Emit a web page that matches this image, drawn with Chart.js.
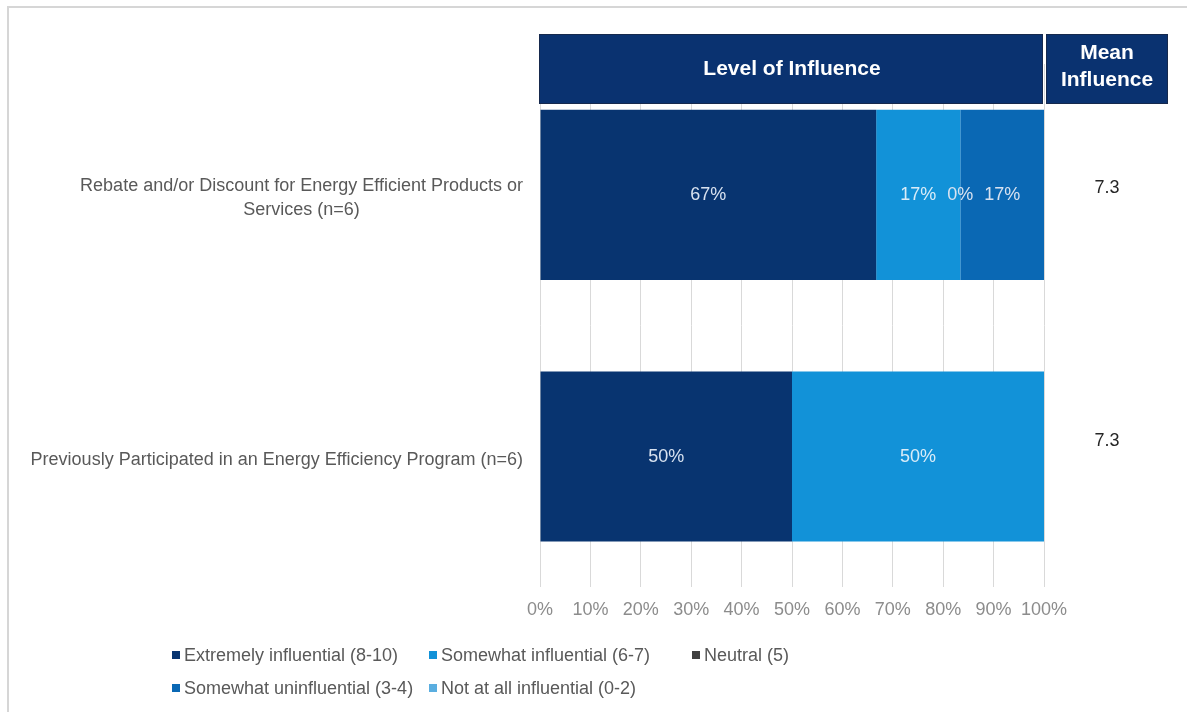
<!DOCTYPE html>
<html>
<head>
<meta charset="utf-8">
<script src="https://cdn.jsdelivr.net/npm/chart.js@4.4.0/dist/chart.umd.min.js"></script>
<style>
  html, body { margin: 0; padding: 0; background: #ffffff; }
  #wrap { width: 1187px; height: 712px; position: relative; }
</style>
</head>
<body>
<div id="wrap"><canvas id="chart"></canvas></div>
<script>
// Survey items (multi-line label for the first one)
const categories = [
  ["Rebate and/or Discount for Energy Efficient Products or", "Services (n=6)"],
  "Previously Participated in an Energy Efficiency Program (n=6)"
];

// Response groups
const seriesNames = [
  "Extremely influential (8-10)",
  "Somewhat influential (6-7)",
  "Neutral (5)",
  "Somewhat uninfluential (3-4)",
  "Not at all influential (0-2)"
];
const seriesColors = ["#083470", "#1292d8", "#404040", "#0a68b4", "#5aaee0"];

// Percent of respondents per group (null = not shown)
const extremelyInfluential = [66.7, 50];
const somewhatInfluential = [16.7, 50];
const neutral = [0, null];
const somewhatUninfluential = [16.6, null];
const notAtAllInfluential = [null, null];

// Mean influence rating per item
const meanInfluence = [7.3, 7.3];

// Horizontal axis tick values
const xTickValues = [0, 10, 20, 30, 40, 50, 60, 70, 80, 90, 100];

const FONT = "'Liberation Sans', Arial, sans-serif";

const seriesValues = [extremelyInfluential, somewhatInfluential, neutral, somewhatUninfluential, notAtAllInfluential];

// Page frame lines
const framePlugin = {
  id: 'frame',
  beforeDraw(chart) {
    const ctx = chart.ctx;
    ctx.save();
    ctx.fillStyle = '#ffffff';
    ctx.fillRect(0, 0, chart.width, chart.height);
    ctx.strokeStyle = '#d6d6d6';
    ctx.lineWidth = 2;
    ctx.beginPath();
    ctx.moveTo(8, chart.height);
    ctx.lineTo(8, 7);
    ctx.lineTo(chart.width, 7);
    ctx.stroke();
    ctx.restore();
  }
};

// Percent labels inside the bar segments
const segmentLabels = {
  id: 'segmentLabels',
  afterDatasetsDraw(chart) {
    const ctx = chart.ctx;
    ctx.save();
    ctx.font = '18px ' + FONT;
    ctx.textAlign = 'center';
    ctx.textBaseline = 'middle';
    chart.data.datasets.forEach((ds, di) => {
      const meta = chart.getDatasetMeta(di);
      meta.data.forEach((bar, i) => {
        const v = ds.data[i];
        if (v === null || v === undefined) return;
        const cx = (bar.x + bar.base) / 2;
        ctx.fillStyle = di === 1 ? '#d9ecf8' : '#d8e2f0';
        ctx.fillText(Math.round(v) + '%', cx, bar.y);
      });
    });
    ctx.restore();
  }
};

// Category labels, header boxes, mean column and legend
const overlay = {
  id: 'overlay',
  afterDraw(chart) {
    const ctx = chart.ctx;
    const area = chart.chartArea;
    const y = chart.scales.y;
    ctx.save();

    // category labels: each block right-aligned, lines centred inside the block
    ctx.font = '18px ' + FONT;
    ctx.fillStyle = '#595959';
    ctx.textBaseline = 'middle';
    ctx.textAlign = 'center';
    const lineH = 24;
    categories.forEach((lab, i) => {
      const lines = Array.isArray(lab) ? lab : [lab];
      const w = Math.max(...lines.map(l => ctx.measureText(l).width));
      const right = area.left - 17;
      const cx = right - w / 2;
      const cy = y.getPixelForValue(i) + 3;
      const top = cy - (lines.length - 1) * lineH / 2;
      lines.forEach((l, k) => ctx.fillText(l, cx, top + k * lineH));
    });

    // header boxes
    const hTop = 34, hBot = 104;
    const meanLeft = area.right + 2, meanRight = 1168;
    ctx.fillStyle = '#0a3270';
    ctx.fillRect(area.left - 1, hTop, area.right - area.left, hBot - hTop);
    ctx.fillRect(meanLeft, hTop, meanRight - meanLeft, hBot - hTop);
    ctx.strokeStyle = '#16294d';
    ctx.lineWidth = 1;
    ctx.strokeRect(area.left - 0.5, hTop + 0.5, area.right - area.left - 1, hBot - hTop - 1);
    ctx.strokeRect(meanLeft + 0.5, hTop + 0.5, meanRight - meanLeft - 1, hBot - hTop - 1);

    ctx.fillStyle = '#ffffff';
    ctx.font = 'bold 21px ' + FONT;
    ctx.fillText('Level of Influence', (area.left + area.right) / 2, (hTop + hBot) / 2);
    const mcx = (meanLeft + meanRight) / 2;
    ctx.fillText('Mean', mcx, 53);
    ctx.fillText('Influence', mcx, 80);

    // mean column values
    ctx.font = '18px ' + FONT;
    ctx.fillStyle = '#262626';
    const meanShift = [-7, -16];
    meanInfluence.forEach((m, i) => {
      ctx.fillText(m.toFixed(1), mcx, y.getPixelForValue(i) + meanShift[i]);
    });

    // legend
    const cols = [172, 429, 692];
    const rows = [655, 688];
    const placement = [[0, 0], [1, 0], [2, 0], [0, 1], [1, 1]];
    ctx.textAlign = 'left';
    ctx.font = '18px ' + FONT;
    seriesNames.forEach((name, i) => {
      const [c, r] = placement[i];
      const x = cols[c], yy = rows[r];
      ctx.fillStyle = seriesColors[i];
      ctx.fillRect(x, yy - 4, 8, 8);
      ctx.fillStyle = '#595959';
      ctx.fillText(name, x + 12, yy + 1);
    });

    ctx.restore();
  }
};

new Chart(document.getElementById('chart'), {
  type: 'bar',
  data: {
    labels: categories,
    datasets: seriesNames.map((name, i) => ({
      label: name,
      data: seriesValues[i],
      backgroundColor: seriesColors[i],
      borderWidth: 0,
      categoryPercentage: 0.65,
      barPercentage: 1.0
    }))
  },
  options: {
    indexAxis: 'y',
    responsive: true,
    maintainAspectRatio: false,
    animation: false,
    layout: { padding: { left: 540, right: 143, top: 64, bottom: 79 } },
    plugins: { legend: { display: false }, tooltip: { enabled: false } },
    scales: {
      x: {
        stacked: true,
        min: 0,
        max: 100,
        afterBuildTicks(scale) { scale.ticks = xTickValues.map(v => ({ value: v })); },
        ticks: {
          callback: v => v + '%',
          color: '#8c8c8c',
          font: { size: 18, family: FONT },
          padding: 12,
          maxRotation: 0
        },
        grid: { color: '#d9d9d9', lineWidth: 1, drawTicks: false },
        border: { display: false }
      },
      y: { stacked: true, display: false }
    }
  },
  plugins: [framePlugin, segmentLabels, overlay]
});
</script>
</body>
</html>
